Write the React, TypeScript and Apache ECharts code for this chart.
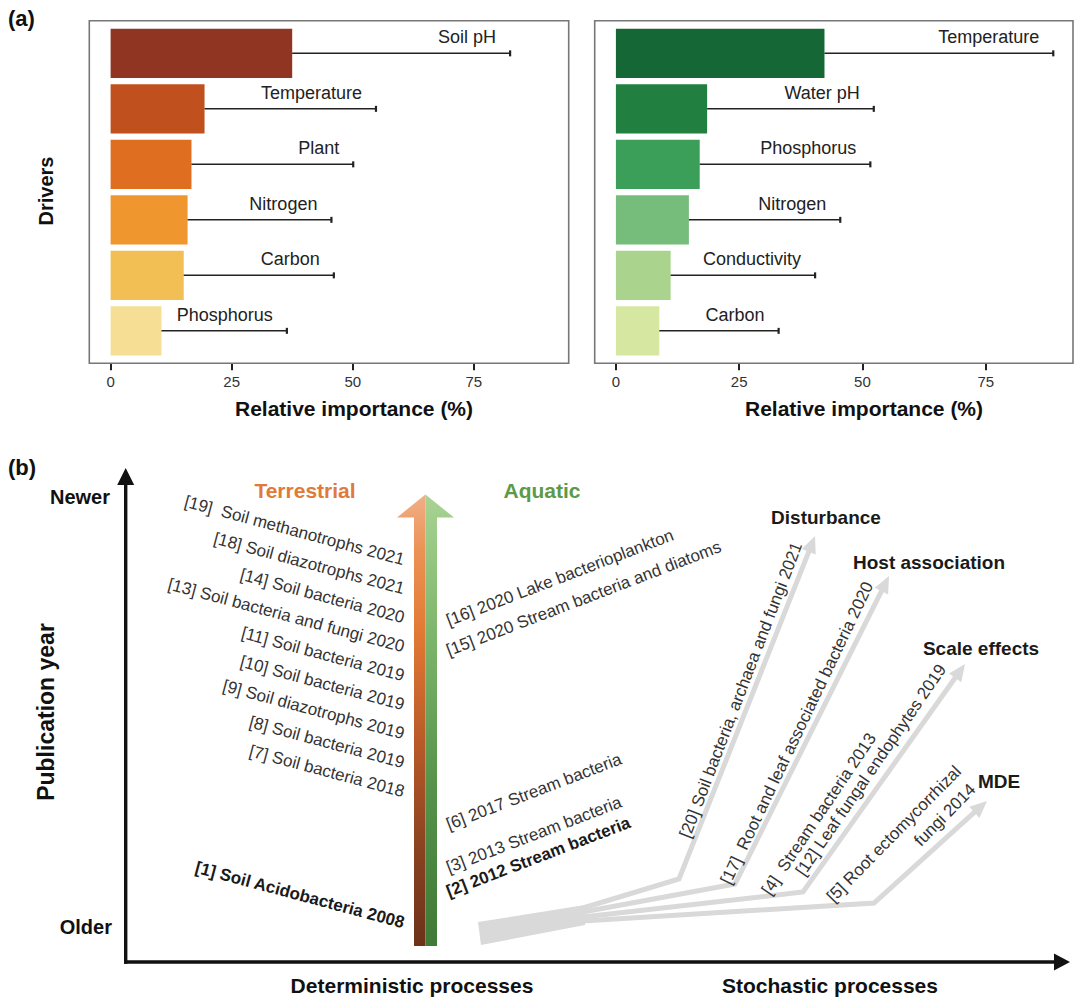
import React, { useEffect, useRef } from "react";
import * as echarts from "echarts";

// ---------- Panel (a) data ----------
const terrestrialDrivers = ["Soil pH", "Temperature", "Plant", "Nitrogen", "Carbon", "Phosphorus"];
const terrestrialImportance = [37.5, 19.4, 16.7, 15.9, 15.1, 10.5];
const terrestrialUpper = [82.5, 54.8, 50.1, 45.6, 46.1, 36.4];

const aquaticDrivers = ["Temperature", "Water pH", "Phosphorus", "Nitrogen", "Conductivity", "Carbon"];
const aquaticImportance = [42.3, 18.5, 17.0, 14.8, 11.1, 8.8];
const aquaticUpper = [88.7, 52.3, 51.6, 45.5, 40.4, 33.0];

const xTicks = [0, 25, 50, 75];

// ---------- Panel (b) texts ----------
const terrestrialStudies = [
  "[19]  Soil methanotrophs 2021",
  "[18] Soil diazotrophs 2021",
  "[14] Soil bacteria 2020",
  "[13] Soil bacteria and fungi 2020",
  "[11] Soil bacteria 2019",
  "[10] Soil bacteria 2019",
  "[9] Soil diazotrophs 2019",
  "[8] Soil bacteria 2019",
  "[7] Soil bacteria 2018",
  "[1] Soil Acidobacteria 2008",
];
const aquaticStudies = [
  "[16] 2020 Lake bacterioplankton",
  "[15] 2020 Stream bacteria and diatoms",
  "[6] 2017 Stream bacteria",
  "[3] 2013 Stream bacteria",
  "[2] 2012 Stream bacteria",
];
const stochasticStudies = [
  "[20] Soil bacteria, archaea and fungi 2021",
  "[17]  Root and leaf associated bacteria 2020",
  "[4]  Stream bacteria 2013",
  "[12] Leaf fungal endophytes 2019",
  "[5] Root ectomycorrhizal",
  "fungi 2014",
];
const stochasticMechanisms = ["Disturbance", "Host association", "Scale effects", "MDE"];

// ---------- styles / layout ----------
const FONT = '"Liberation Sans", Arial, Helvetica, sans-serif';
const terrestrialColors = ["#8F3522", "#C0501E", "#E06E21", "#EF962F", "#F2BF55", "#F6DE95"];
const aquaticColors = ["#156736", "#217F40", "#3C9F59", "#76BC7B", "#AAD38D", "#D6E7A2"];

const deg = Math.PI / 180;

// positions of schematic elements (panel b is a diagram, not a data plot)
const terrestrialAnchors = [560, 589, 618, 647, 676, 705, 734, 763, 792, 923];
const aquaticAnchors = [621, 651, 825, 868, 892];
const stochasticLayout = [
  { x: 741, y: 690, a: 69 },
  { x: 797, y: 733, a: 64.5 },
  { x: 819, y: 814, a: 56 },
  { x: 871, y: 770, a: 55.5 },
  { x: 894, y: 834, a: 45.5 },
  { x: 945, y: 815, a: 45.5 },
];
const mechanismLayout = [
  { x: 826, y: 517 },
  { x: 929, y: 562 },
  { x: 981, y: 648 },
  { x: 999, y: 781 },
];
const branches = [
  [[583, 908], [679, 879], [815, 536]],
  [[583, 912], [735, 884], [889, 576]],
  [[583, 917], [803, 892], [965, 664]],
  [[583, 921], [874, 903], [987, 801]],
];

function text(t: string, x: number, y: number, o: any = {}) {
  const align = o.align || "center";
  const va = o.va || "middle";
  return {
    type: "text",
    x,
    y,
    rotation: (o.rot || 0) * deg,
    z: 10,
    style: {
      text: t,
      fontSize: o.size || 17,
      fontWeight: o.bold ? "bold" : "normal",
      fontFamily: FONT,
      fill: o.color || "#333",
      align,
      verticalAlign: va,
      textAlign: align,
      textVerticalAlign: va,
    },
  };
}

function arrowWithHead(points: number[][], color: string, lw: number, headLen: number, headW: number) {
  const n = points.length;
  const tip = points[n - 1];
  const prev = points[n - 2];
  const dx = tip[0] - prev[0];
  const dy = tip[1] - prev[1];
  const len = Math.sqrt(dx * dx + dy * dy);
  const ux = dx / len;
  const uy = dy / len;
  const bx = tip[0] - ux * headLen;
  const by = tip[1] - uy * headLen;
  const px = -uy;
  const py = ux;
  const linePts = points.slice(0, n - 1).concat([[bx + ux * 1, by + uy * 1]]);
  return [
    {
      type: "polyline",
      z: 5,
      shape: { points: linePts },
      style: { stroke: color, lineWidth: lw, fill: "none", lineJoin: "miter" },
    },
    {
      type: "polygon",
      z: 5,
      shape: {
        points: [
          tip,
          [bx + (px * headW) / 2, by + (py * headW) / 2],
          [bx - (px * headW) / 2, by - (py * headW) / 2],
        ],
      },
      style: { fill: color },
    },
  ];
}

function barPanel(idx: number, names: string[], values: number[], uppers: number[], colors: string[]) {
  return [
    {
      type: "bar",
      xAxisIndex: idx,
      yAxisIndex: idx,
      barWidth: 49.3,
      z: 2,
      data: values.map((v, i) => ({ value: v, itemStyle: { color: colors[i] } })),
    },
    {
      type: "custom",
      xAxisIndex: idx,
      yAxisIndex: idx,
      z: 3,
      encode: { x: [0, 1], y: 2 },
      data: values.map((v, i) => [v, uppers[i], i]),
      renderItem: (params: any, api: any) => {
        const i = api.value(2);
        const p0 = api.coord([api.value(0), i]);
        const p1 = api.coord([api.value(1), i]);
        return {
          type: "group",
          children: [
            {
              type: "line",
              shape: { x1: p0[0], y1: p0[1], x2: p1[0], y2: p1[1] },
              style: { stroke: "#222", lineWidth: 1.5 },
            },
            {
              type: "line",
              shape: { x1: p1[0], y1: p1[1] - 3, x2: p1[0], y2: p1[1] + 3 },
              style: { stroke: "#222", lineWidth: 2.2 },
            },
            {
              type: "text",
              x: p1[0] - 14,
              y: p1[1] - 7,
              style: {
                text: names[i],
                fontSize: 18,
                fontFamily: FONT,
                fill: "#222",
                align: "right",
                verticalAlign: "bottom",
                textAlign: "right",
                textVerticalAlign: "bottom",
              },
            },
          ],
        };
      },
    },
  ];
}

function xAxisFor(gridIndex: number, min: number, max: number) {
  return {
    type: "value",
    gridIndex,
    min,
    max,
    offset: 4.7,
    splitLine: { show: false },
    axisLine: { show: false },
    axisTick: { show: true, customValues: xTicks, length: 7, lineStyle: { color: "#222", width: 2 } },
    axisLabel: { show: true, customValues: xTicks, fontSize: 15, color: "#333", margin: 11, fontFamily: FONT },
  };
}

function yAxisFor(gridIndex: number, names: string[]) {
  return {
    type: "category",
    gridIndex,
    inverse: true,
    data: names,
    show: false,
  };
}

export default function App() {
  const ref = useRef<HTMLDivElement>(null);

  useEffect(() => {
    if (!ref.current) return;
    const chart = echarts.init(ref.current, null, { renderer: "svg" });

    const graphics: any[] = [];

    // ----- panel (a) decorations -----
    graphics.push(text("(a)", 8, 18, { align: "left", bold: true, size: 22, color: "#111" }));
    graphics.push({
      type: "rect",
      z: 1,
      shape: { x: 89.3, y: 20.7, width: 479.4, height: 342.6 },
      style: { fill: "none", stroke: "#777", lineWidth: 1.6 },
    });
    graphics.push({
      type: "rect",
      z: 1,
      shape: { x: 594.7, y: 20.7, width: 478.3, height: 342.6 },
      style: { fill: "none", stroke: "#777", lineWidth: 1.6 },
    });
    graphics.push(text("Drivers", 46, 191, { bold: true, size: 20, color: "#111", rot: 90 }));
    graphics.push(text("Relative importance (%)", 354, 408, { bold: true, size: 21, color: "#111" }));
    graphics.push(text("Relative importance (%)", 864, 408, { bold: true, size: 21, color: "#111" }));

    // ----- panel (b) -----
    graphics.push(text("(b)", 8, 467, { align: "left", bold: true, size: 22, color: "#111" }));
    // axes
    graphics.push({
      type: "line",
      z: 6,
      shape: { x1: 125.7, y1: 963.7, x2: 125.7, y2: 482 },
      style: { stroke: "#111", lineWidth: 3.4 },
    });
    graphics.push({
      type: "polygon",
      z: 6,
      shape: { points: [[125.7, 468], [134.2, 485], [117.2, 485]] },
      style: { fill: "#111" },
    });
    graphics.push({
      type: "line",
      z: 6,
      shape: { x1: 124, y1: 962, x2: 1056, y2: 962 },
      style: { stroke: "#111", lineWidth: 3.4 },
    });
    graphics.push({
      type: "polygon",
      z: 6,
      shape: { points: [[1070, 962], [1054, 953.5], [1054, 970.5]] },
      style: { fill: "#111" },
    });
    graphics.push(text("Newer", 110, 497, { align: "right", bold: true, size: 20, color: "#111" }));
    graphics.push(text("Older", 112, 927, { align: "right", bold: true, size: 20, color: "#111" }));
    graphics.push(text("Publication year", 46, 712, { bold: true, size: 23, color: "#111", rot: 90 }));
    graphics.push(text("Deterministic processes", 412, 985, { bold: true, size: 21, color: "#111" }));
    graphics.push(text("Stochastic processes", 830, 985, { bold: true, size: 21, color: "#111" }));

    // central gradient arrow
    graphics.push({
      type: "polygon",
      z: 4,
      shape: { points: [[425.4, 494.6], [397, 517.5], [414, 517.5], [414, 946], [425.4, 946]] },
      style: {
        fill: {
          type: "linear",
          x: 0,
          y: 0,
          x2: 0,
          y2: 1,
          colorStops: [
            { offset: 0, color: "#F2AE86" },
            { offset: 0.12, color: "#EB9356" },
            { offset: 0.3, color: "#E27A35" },
            { offset: 0.55, color: "#B85A28" },
            { offset: 0.8, color: "#874121" },
            { offset: 1, color: "#6C321B" },
          ],
        },
      },
    });
    graphics.push({
      type: "polygon",
      z: 4,
      shape: { points: [[425.4, 494.6], [454, 517.5], [437, 517.5], [437, 946], [425.4, 946]] },
      style: {
        fill: {
          type: "linear",
          x: 0,
          y: 0,
          x2: 0,
          y2: 1,
          colorStops: [
            { offset: 0, color: "#A9D393" },
            { offset: 0.3, color: "#7FB66D" },
            { offset: 0.65, color: "#56924A" },
            { offset: 1, color: "#3F7A36" },
          ],
        },
      },
    });
    graphics.push(text("Terrestrial", 305, 490, { bold: true, size: 21, color: "#E07A3A" }));
    graphics.push(text("Aquatic", 542, 490, { bold: true, size: 21, color: "#5C9A48" }));

    terrestrialStudies.forEach((s, i) => {
      const isBold = i === terrestrialStudies.length - 1;
      graphics.push(
        text(s, 404, terrestrialAnchors[i], {
          align: "right",
          rot: -15,
          size: 17,
          bold: isBold,
          color: isBold ? "#1a1a1a" : "#333",
        })
      );
    });
    aquaticStudies.forEach((s, i) => {
      const isBold = i === aquaticStudies.length - 1;
      graphics.push(
        text(s, 447, aquaticAnchors[i], {
          align: "left",
          rot: 21,
          size: 17,
          bold: isBold,
          color: isBold ? "#1a1a1a" : "#333",
        })
      );
    });

    // gray fan
    const gray = "#D9D9D9";
    graphics.push({
      type: "polygon",
      z: 4,
      shape: { points: [[478, 922], [585, 905], [585, 925], [481, 945]] },
      style: { fill: gray },
    });
    branches.forEach((b) => {
      arrowWithHead(b, gray, 5, 17, 15).forEach((g) => graphics.push(g));
    });
    stochasticStudies.forEach((s, i) => {
      const L = stochasticLayout[i];
      graphics.push(text(s, L.x, L.y, { rot: L.a, size: 17, color: "#333" }));
    });
    stochasticMechanisms.forEach((s, i) => {
      const L = mechanismLayout[i];
      graphics.push(text(s, L.x, L.y, { bold: true, size: 19, color: "#1a1a1a" }));
    });

    const option: any = {
      animation: false,
      backgroundColor: "#ffffff",
      textStyle: { fontFamily: FONT },
      grid: [
        { left: 89.3, top: 25.6, width: 479.4, height: 333, containLabel: false },
        { left: 594.7, top: 25.6, width: 478.3, height: 333, containLabel: false },
      ],
      xAxis: [xAxisFor(0, -4.4, 94.6), xAxisFor(1, -4.3, 92.7)],
      yAxis: [yAxisFor(0, terrestrialDrivers), yAxisFor(1, aquaticDrivers)],
      series: [
        ...barPanel(0, terrestrialDrivers, terrestrialImportance, terrestrialUpper, terrestrialColors),
        ...barPanel(1, aquaticDrivers, aquaticImportance, aquaticUpper, aquaticColors),
      ],
      graphic: { elements: graphics },
    };
    chart.setOption(option);
    return () => chart.dispose();
  }, []);

  return (
    <div
      ref={ref}
      style={{ position: "fixed", left: 0, top: 0, width: 1080, height: 1005, background: "#fff" }}
    />
  );
}
